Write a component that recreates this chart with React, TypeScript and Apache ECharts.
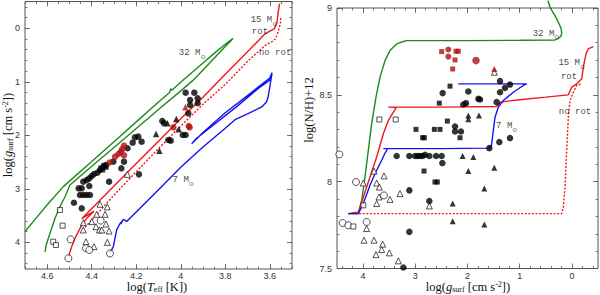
import React, { useEffect, useRef } from 'react';
import * as echarts from 'echarts';

// ---------- LEFT PANEL: log Teff vs log g ----------
const leftXTicks = [3.6, 3.8, 4, 4.2, 4.4, 4.6];
const leftYTicks = [0, 1, 2, 3, 4];
const rightXTicks = [0, 1, 2, 3, 4];
const rightYTicks = [7.5, 8, 8.5, 9];

const track32L = [[4.61,4.18],[4.605,4.05],[4.585,3.8],[4.565,3.55],[4.545,3.35],[4.52,3.15],[4.498,2.93],[4.4,2.58],[4.3,2.23],[4.2,1.875],[4.1,1.52],[4,1.17],[3.944,0.97],[3.9,0.78],[3.85,0.56],[3.8,0.34],[3.775,0.24],[3.765,0.19],[3.8,0.3],[3.85,0.47],[3.9,0.65],[3.989,0.967],[4.03,1.12],[4.04,1.16],[4.045,1.13],[4.05,1.2],[4.1,1.38],[4.2,1.75],[4.3,2.12],[4.4,2.49],[4.528,2.96],[4.6,3.3],[4.65,3.55],[4.7,3.8]];
const track15rotL = [[4.505,4.27],[4.49,4.08],[4.47,3.88],[4.445,3.68],[4.42,3.54],[4.39,3.42],[4.41,3.47],[4.445,3.56],[4.3,2.95],[4.2,2.53],[4.1,2.11],[4,1.69],[3.9,1.29],[3.8,0.86],[3.7,0.44],[3.62,0.1],[3.58,0.01],[3.568,-0.1],[3.562,-0.3],[3.556,-0.46]];
const track15norotL = [[4.43,3.72],[4.3,3.12],[4.2,2.68],[4.1,2.25],[4,1.83],[3.9,1.42],[3.8,1.05],[3.7,0.62],[3.62,0.32],[3.59,0.25],[3.575,0.2],[3.565,0.1],[3.558,0],[3.552,-0.1],[3.55,-0.22]];
const track7L = [[4.318,4.21],[4.303,4.08],[4.288,3.77],[4.273,3.65],[4.262,3.6],[4.27,3.66],[4.258,3.57],[4.243,3.61],[4.1,3.02],[4,2.6],[3.9,2.22],[3.8,1.87],[3.756,1.71],[3.7,1.6],[3.636,1.47],[3.615,1.38],[3.607,1.28],[3.598,1.05],[3.591,0.87],[3.59,0.83],[3.6,0.93],[3.7,1.26],[3.8,1.58],[3.9,1.95],[3.951,2.16],[3.93,2.06],[3.85,1.8],[3.75,1.47],[3.65,1.12],[3.6,0.97],[3.592,0.88]];

const leftFilledCircles = [[3.978,1.204],[3.939,1.204],[3.924,1.31],[3.924,1.403],[3.958,1.341],[3.958,1.435],[3.966,1.59],[3.991,1.995],[3.978,1.995],[4.083,1.733],[4.075,1.777],[4.056,2.088],[4.045,2.101],[4.191,2.026],[4.206,2.039],[4.216,2.139],[4.176,2.12],[4.239,2.244],[4.255,2.494],[4.303,2.494],[4.267,2.618],[4.188,2.731],[4.322,2.868],[4.39,2.724],[4.4,2.762],[4.411,2.806],[4.423,2.837],[4.438,2.868],[4.459,2.992],[4.445,2.992],[4.411,2.949],[4.453,3.117],[4.438,3.117],[4.423,3.117],[4.408,3.117],[4.48,3.261],[4.445,3.366],[4.336,2.556],[4.348,2.587],[4.363,2.65],[4.375,2.7]];
const leftFilledSquares = [[4.34,2.58],[4.355,2.63]];
const leftRedCircles = [[3.964,1.827],[3.96,1.852],[4.033,1.852],[4.255,2.195],[4.263,2.26],[4.27,2.31],[4.28,2.35],[4.295,2.4],[4.255,2.375],[4.32,2.51]];
const leftRedTriangles = [[3.979,1.478]];
const leftFilledTriangles = [[4.02,1.696],[4.009,1.889],[4.06,1.777],[4.111,1.977],[4.096,2.288]];
const leftOpenTriangles = [[4.24,2.731],[4.363,3.29],[4.33,3.34],[4.378,3.478],[4.34,3.478],[4.4,3.615],[4.438,3.634],[4.381,3.709],[4.366,3.771],[4.355,3.771],[4.322,3.79],[4.336,3.659],[4.438,3.771],[4.426,3.99],[4.39,4.083],[4.33,4.002]];
const leftOpenCircles = [[4.495,3.946],[4.505,4.3],[4.36,3.596],[4.426,4.112],[4.411,4.145],[4.318,4.21]];
const leftOpenSquares = [[4.543,3.397],[4.531,3.69],[4.573,3.99],[4.561,4.051]];

const leftLabelPos = [[3.949,0.463],[3.626,-0.154],[3.644,0.07],[3.576,0.47],[3.989,2.84]];
const leftLabelText = ['32 M⊙', '15 M⊙', 'rot', 'no rot', '7 M⊙'];

// ---------- RIGHT PANEL: log g vs log(N/H)+12 ----------
const track32R = [[4.283,7.816],[4.091,7.816],[4.027,7.893],[3.964,8.027],[3.9,8.18],[3.836,8.333],[3.753,8.487],[3.676,8.602],[3.58,8.697],[3.485,8.755],[3.357,8.793],[3.229,8.807],[3.165,8.812],[2,8.812],[1,8.814],[0.324,8.816],[0.26,8.824],[0.21,8.838],[0.195,8.855],[0.205,8.878],[0.228,8.898],[0.324,8.956],[0.42,9.004],[0.458,9.042]];
const track15rotR = [[4.283,7.816],[4.091,7.826],[3.995,7.912],[3.868,8.027],[3.74,8.142],[3.612,8.276],[3.517,8.352],[3.421,8.4],[3.37,8.422],[3.4,8.428],[3.517,8.429],[2.5,8.429],[1.446,8.433],[1.4,8.445],[1.377,8.458],[1,8.472],[0.5,8.487],[0.069,8.5],[0.004,8.544],[-0.092,8.563],[-0.188,8.592],[-0.218,8.659],[-0.27,8.736],[-0.314,8.765],[-0.41,8.778]];
const track15norotR = [[4.283,7.816],[0.196,7.816],[0.164,7.854],[0.132,7.969],[0.1,8.18],[0.068,8.372],[0.036,8.467],[-0.028,8.515],[-0.091,8.554],[-0.18,8.563]];
const track7R = [[4.283,7.816],[4.091,7.816],[4.027,7.855],[3.996,7.874],[3.868,7.979],[3.75,8.06],[3.644,8.123],[3.58,8.165],[3.548,8.18],[3.54,8.19],[3.613,8.19],[2.5,8.19],[1.602,8.193],[1.55,8.2],[1.536,8.218],[1.505,8.295],[1.473,8.371],[1.41,8.429],[1.314,8.467],[1.122,8.515],[0.931,8.554],[0.866,8.563],[2.176,8.563]];

const rightFilledCircles = [[1.377,8.579],[1.186,8.559],[1.282,8.54],[1.377,8.515],[1.984,8.519],[1.76,8.473],[1.792,8.477],[2.08,8.444],[2.029,8.452],[1.441,8.458],[1.186,8.251],[1.39,8.228],[1.582,8.193],[2.239,8.318],[2.125,8.289],[2.239,8.289],[2.476,8.51],[3.114,7.95],[3.229,7.506],[2.731,7.889],[3.114,7.711],[3.357,8.148],[3.114,8.148],[3.006,8.148],[2.955,8.148],[2.91,8.148],[2.859,8.148],[2.814,8.155],[2.731,8.148],[2.603,8.148],[2.495,8.148],[2.482,8.107]];
const rightFilledSquares = [[2.335,8.55],[2.54,8.452],[2.386,8.349],[2.987,8.301],[2.635,8.301],[2.527,8.301],[2.859,8.253],[2.827,8.253],[2.144,8.253],[2.833,8.061],[2.623,7.998],[2.578,7.998]];
const rightFilledTriangles = [[2.093,8.148],[1.888,8.142],[1.984,8.381],[1.984,8.36],[1.78,8.381],[1.984,8.061],[1.486,8.08],[1.678,7.96],[2.284,7.874],[2.284,7.772],[1.678,7.753]];
const rightRedSquares = [[2.495,8.749],[2.22,8.751],[2.176,8.751],[2.239,8.701],[2.284,8.649]];
const rightRedCircles = [[2.367,8.761],[2.367,8.72]];
const rightRedBigCircles = [[1.837,8.697]];
const rightRedTriangles = [[1.486,8.649]];
const rightOpenTriangles = [[3.791,8.061],[3.6,8.033],[3.74,7.992],[3.689,7.969],[3.695,7.912],[3.485,7.898],[3.293,7.931],[3.74,7.874],[3.932,7.73],[3.983,7.663],[3.791,7.663],[3.625,7.64],[3.644,7.609],[3.753,7.58],[3.497,7.59],[3.325,7.544],[2.731,7.86],[1.486,8.63],[3.996,7.992]];
const rightOpenCircles = [[4.455,8.157],[4.136,7.998],[3.6,7.921],[4.391,7.762],[4.283,7.749],[3.932,7.768]];
const rightOpenSquares = [[3.689,8.358],[3.376,8.358],[3.996,7.864],[4.187,7.742]];

const rightLabelPos = [[0.496,8.851],[0.004,8.682],[0.056,8.605],[-0.06,8.404],[1.249,8.318]];
const rightLabelText = ['32 M⊙', '15 M⊙', 'rot', 'no rot', '7 M⊙'];

const GREEN = '#1e8a1e';
const RED = '#f01818';
const BLUE = '#1414ee';
const DARKRED = '#b01010';
const AXIS = '#555';

function steps(from: number, to: number, step: number) {
  const out: number[] = [];
  const n = Math.round((to - from) / step);
  for (let i = 0; i <= n; i++) out.push(Math.round((from + i * step) * 1000) / 1000);
  return out;
}

function axisSet(dim: 'x' | 'y', grid: number, min: number, max: number, inverse: boolean, major: number[], minor: number[]) {
  const base: any = {
    type: 'value', gridIndex: grid, min, max, inverse,
    splitLine: { show: false },
    axisLine: { show: false, onZero: false },
  };
  const pos1 = dim === 'x' ? 'bottom' : 'left';
  const pos2 = dim === 'x' ? 'top' : 'right';
  const tick = (vals: number[], len: number) => ({ show: true, inside: true, length: len, customValues: vals, lineStyle: { color: AXIS, width: 0.8 } });
  return [
    {
      ...base, position: pos1, axisTick: tick(major, 5),
      axisLabel: {
        show: true, customValues: major, formatter: (v: number) => String(v),
        margin: dim === 'x' ? 2.5 : 5, fontSize: 9, color: '#333', fontFamily: 'Liberation Sans',
      },
    },
    { ...base, position: pos1, axisTick: tick(minor, 2.5), axisLabel: { show: false } },
    { ...base, position: pos2, axisTick: tick(major, 5), axisLabel: { show: false } },
    { ...base, position: pos2, axisTick: tick(minor, 2.5), axisLabel: { show: false } },
  ];
}

function pts(data: number[][], grid: number, symbol: string, size: number, color: string, open = false, z = 5) {
  return {
    type: 'scatter', data, xAxisIndex: grid * 4, yAxisIndex: grid * 4,
    symbol, symbolSize: size, silent: true, z,
    itemStyle: open ? { color: '#fff', borderColor: '#111', borderWidth: 0.9 } : { color },
  };
}

function track(data: number[][], grid: number, color: string, dotted = false) {
  return {
    type: 'line', data, xAxisIndex: grid * 4, yAxisIndex: grid * 4,
    showSymbol: false, symbol: 'none', silent: true, clip: false, z: 3,
    lineStyle: { color, width: 1.4, type: dotted ? [2, 1.6] : 'solid' },
  };
}

const labelRich = {
  m: { fontFamily: 'Liberation Mono', fontSize: 9, color: '#111', lineHeight: 12, verticalAlign: 'middle' },
  s: { fontFamily: 'DejaVu Sans', fontSize: 6, color: '#111', lineHeight: 8, verticalAlign: 'bottom' },
};

function labels(pos: number[][], text: string[], grid: number) {
  return {
    type: 'scatter', xAxisIndex: grid * 4, yAxisIndex: grid * 4, silent: true, z: 6,
    symbol: 'circle', symbolSize: 1, itemStyle: { color: 'rgba(0,0,0,0)' },
    data: pos.map((p, i) => ({ name: text[i], value: p })),
    label: {
      show: true, position: 'inside', rich: labelRich,
      formatter: (p: any) => {
        const t: string = p.name;
        return t.endsWith('⊙') ? `{m|${t.slice(0, -1)}}{s|⊙}` : `{m|${t}}`;
      },
    },
  };
}

const titleRich: any = {
  a: { fontFamily: 'Liberation Serif', fontSize: 12.5, lineHeight: 13, verticalAlign: 'middle', fill: '#111' },
  i: { fontFamily: 'Liberation Serif', fontStyle: 'italic', fontSize: 12.5, lineHeight: 13, verticalAlign: 'middle', fill: '#111' },
  s: { fontFamily: 'Liberation Serif', fontSize: 8, lineHeight: 8, verticalAlign: 'bottom', fill: '#111' },
  p: { fontFamily: 'Liberation Serif', fontSize: 8, lineHeight: 8, verticalAlign: 'top', fill: '#111' },
};

function title(text: string, x: number, y: number, rotation = 0) {
  return {
    type: 'text', x, y, rotation, silent: true,
    style: { text, rich: titleRich, align: 'center', textAlign: 'center', verticalAlign: 'middle', textVerticalAlign: 'middle' },
  };
}

export default function App() {
  const ref = useRef<HTMLDivElement>(null);
  useEffect(() => {
    if (!ref.current) return;
    const chart = echarts.init(ref.current, null, { renderer: 'svg' });
    const gSurf = '{a|log(}{i|g}{s|surf}{a| [cm s}{p|-2}{a|])}';
    const option: any = {
      animation: false,
      backgroundColor: '#fff',
      grid: [
        { left: 25, top: 1.5, width: 267, height: 267.5, show: true, borderColor: AXIS, borderWidth: 1, backgroundColor: 'transparent' },
        { left: 337, top: 8, width: 261, height: 260.5, show: true, borderColor: AXIS, borderWidth: 1, backgroundColor: 'transparent' },
      ],
      xAxis: [
        ...axisSet('x', 0, 3.5, 4.7, true, leftXTicks, steps(3.5, 4.7, 0.05)),
        ...axisSet('x', 1, -0.5, 4.5, true, rightXTicks, steps(-0.4, 4.4, 0.2)),
      ],
      yAxis: [
        ...axisSet('y', 0, -0.5, 4.5, true, leftYTicks, steps(-0.4, 4.4, 0.2)),
        ...axisSet('y', 1, 7.5, 9, false, rightYTicks, steps(7.5, 9, 0.1)),
      ],
      graphic: [
        title('{a|log(}{i|T}{s|eff}{a| [K])}', 157, 286.5),
        title(gSurf, 8, 135, Math.PI / 2),
        title(gSurf, 468, 286.5),
        title('{a|log(N/H)+12}', 309, 110, Math.PI / 2),
      ],
      series: [
        track(track32L, 0, GREEN),
        track(track15norotL, 0, RED, true),
        track(track15rotL, 0, RED),
        track(track7L, 0, BLUE),
        pts(leftOpenTriangles, 0, 'triangle', 6, '#000', true),
        pts(leftOpenCircles, 0, 'circle', 7, '#000', true),
        pts(leftOpenSquares, 0, 'rect', 5, '#000', true),
        pts(leftFilledCircles, 0, 'circle', 6.5, '#000'),
        pts(leftFilledSquares, 0, 'rect', 7, '#000'),
        pts(leftFilledTriangles, 0, 'triangle', 6.5, '#000'),
        pts(leftRedCircles, 0, 'circle', 6.5, DARKRED),
        pts(leftRedTriangles, 0, 'triangle', 6.5, DARKRED),
        labels(leftLabelPos, leftLabelText, 0),

        track(track15norotR, 1, RED, true),
        track(track32R, 1, GREEN),
        track(track15rotR, 1, RED),
        track(track7R, 1, BLUE),
        pts(rightOpenTriangles, 1, 'triangle', 6, '#000', true),
        pts(rightOpenCircles, 1, 'circle', 7, '#000', true),
        pts(rightOpenSquares, 1, 'rect', 5, '#000', true),
        pts(rightFilledCircles, 1, 'circle', 6.5, '#000'),
        pts(rightFilledSquares, 1, 'rect', 5, '#000'),
        pts(rightFilledTriangles, 1, 'triangle', 6, '#000'),
        pts(rightRedSquares, 1, 'rect', 5, DARKRED),
        pts(rightRedCircles, 1, 'circle', 6, DARKRED),
        pts(rightRedBigCircles, 1, 'circle', 7.5, DARKRED),
        pts(rightRedTriangles, 1, 'triangle', 6, DARKRED),
        labels(rightLabelPos, rightLabelText, 1),
      ],
    };
    chart.setOption(option);
    return () => chart.dispose();
  }, []);
  return <div ref={ref} style={{ position: 'absolute', left: 0, top: 0, width: 600, height: 295 }} />;
}
